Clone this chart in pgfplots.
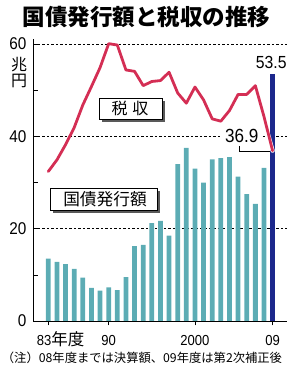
\documentclass[border=0pt]{standalone}
\usepackage{fontspec}
\setmainfont{Liberation Sans}
\newfontfamily\cjk{Noto Sans CJK JP}
\newfontfamily\num{Liberation Sans}[FakeStretch=0.9]
\usepackage{pgfplots}
\pgfplotsset{compat=1.18}
\definecolor{barteal}{RGB}{92,172,180}
\definecolor{barnavy}{RGB}{28,40,140}
\definecolor{taxred}{RGB}{212,46,84}
\begin{document}
\begin{tikzpicture}
\path[use as bounding box] (0pt,0pt) rectangle (296pt,380pt);
\begin{axis}[
  scale only axis, width=253.2pt, height=281.5pt,
  at={(33.3pt,59pt)}, anchor=south west,
  xmin=1981.264, xmax=2010.61, ymin=0, ymax=61,
  axis x line*=bottom, axis y line*=left,
  axis line style={black, line width=0.8pt},
  clip=false,
  ytick={0,20,40,60}, yticklabels={0,20,40,60},
  minor ytick={10,30,50},
  xtick={1983,1990,2000,2009},
  xticklabels={{\makebox[0pt][l]{\hspace*{-11.5pt}83{\cjk\fontsize{16.5}{16}\selectfont 年度}}},90,2000,09},
  tick align=inside,
  major tick length=4.5pt, minor tick length=4.5pt,
  tick style={black, line width=0.7pt},
  xtick style={yshift=-4.5pt},
  ymajorgrids=true,
  major grid style={black, line width=0.6pt, dash pattern=on 2.5pt off 2pt},
  yticklabel style={font=\num\fontsize{17}{17}\selectfont, anchor=east, inner sep=0pt, xshift=-6.6pt},
  xticklabel style={font=\num\fontsize{14.5}{14}\selectfont, anchor=base, inner sep=0pt, yshift=-24pt},
]
\addplot[ybar, bar width=4.8pt, bar shift=0pt, fill=barteal, draw=none] coordinates {
(1983,13.5) (1984,12.8) (1985,12.3) (1986,11.3) (1987,9.4) (1988,7.2) (1989,6.6)
(1990,7.3) (1991,6.7) (1992,9.5) (1993,16.2) (1994,16.5) (1995,21.2) (1996,21.7)
(1997,18.5) (1998,34.0) (1999,37.5) (2000,33.0) (2001,30.0) (2002,35.0) (2003,35.3)
(2004,35.5) (2005,31.3) (2006,27.5) (2007,25.4) (2008,33.2)};
\addplot[ybar, bar width=5.5pt, bar shift=0pt, fill=barnavy, draw=none] coordinates {(2009,53.5)};
\addplot[white, line width=4.2pt, line cap=round] coordinates {(2007.6,46.3) (2009,36.9)};
\addplot[taxred, line width=2.8pt, line join=round, line cap=round, mark=none] coordinates {
(1983,32.4) (1984,34.9) (1985,38.2) (1986,41.9) (1987,46.8) (1988,50.8) (1989,54.9)
(1990,60.1) (1991,59.8) (1992,54.4) (1993,54.1) (1994,51.0) (1995,51.9) (1996,52.1)
(1997,53.9) (1998,49.4) (1999,47.2) (2000,50.7) (2001,47.9) (2002,43.8) (2003,43.3)
(2004,45.6) (2005,49.1) (2006,49.1) (2007,51.0) (2008,44.3) (2009,36.9)};
\end{axis}
\begin{scope}[x=1pt,y=1pt]
% title
\node[inner sep=0pt, font=\cjk\bfseries\fontsize{22.5}{24}\selectfont] at (146.7,362.5) {国債発行額と税収の推移};
% unit
\node[inner sep=0pt, font=\cjk\fontsize{16}{16}\selectfont] at (19,315) {兆};
\node[inner sep=0pt, font=\cjk\fontsize{16}{16}\selectfont] at (19,299.3) {円};
% tax box
\fill[black!65] (101.8,258.2) rectangle (165.2,279.2);
\draw[fill=white, line width=0.7pt] (99.3,260.7) rectangle (162.7,281.7);
\node[inner sep=0pt, font=\cjk\fontsize{16}{16}\selectfont] at (130,271.2) {税\hspace{5pt}収};
% bond box
\fill[black!65] (53,167) rectangle (160,189.4);
\draw[fill=white, line width=0.7pt] (50.7,169.3) rectangle (157.7,191.7);
\node[inner sep=0pt, font=\cjk\fontsize{16.7}{17}\selectfont] at (105,180.5) {国債発行額};
% value labels
\node[inner sep=0pt, font=\num\fontsize{17.5}{18}\selectfont] at (271.3,318) {53.5};
\node[fill=white, inner xsep=3pt, inner ysep=1pt, font=\num\fontsize{19}{19}\selectfont] at (241.7,244.2) {36.9};
\draw[black, line width=0.7pt] (239.3,234) -- (239.3,228.3) -- (270,228.3);
% note
\node[anchor=west, inner sep=0pt, font=\cjk\fontsize{12.3}{13}\selectfont] at (1.7,22) {（注）08年度までは決算額、09年度は第2次補正後};
\end{scope}
\end{tikzpicture}
\end{document}
